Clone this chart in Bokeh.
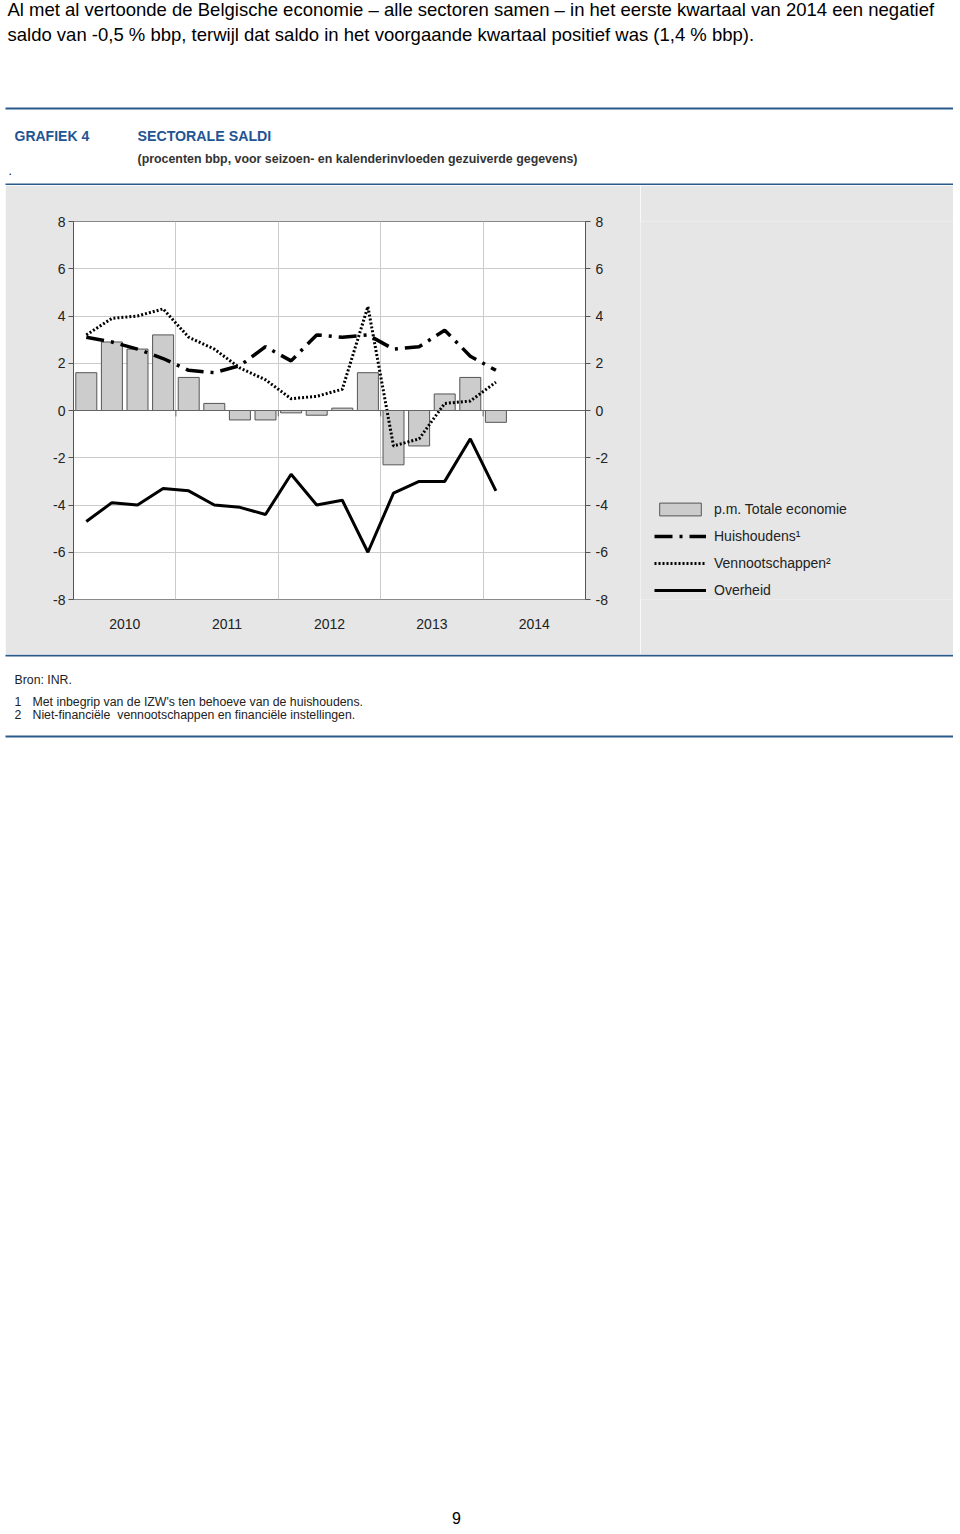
from bokeh.plotting import figure
from bokeh.layouts import column, row
from bokeh.models import (Range1d, FixedTicker, LinearAxis, Label, BoxAnnotation,
                          Span, Legend, LegendItem, Spacer)
from bokeh.embed import file_html
from bokeh.resources import INLINE

# ---------------- data ----------------
quarters = ["2010K1", "2010K2", "2010K3", "2010K4",
            "2011K1", "2011K2", "2011K3", "2011K4",
            "2012K1", "2012K2", "2012K3", "2012K4",
            "2013K1", "2013K2", "2013K3", "2013K4",
            "2014K1"]
years = [2010, 2011, 2012, 2013, 2014]
year_labels = ["2010", "2011", "2012", "2013", "2014"]
y_ticks = [-8, -6, -4, -2, 0, 2, 4, 6, 8]

totale = [1.6, 2.9, 2.6, 3.2, 1.4, 0.3, -0.4, -0.4, -0.1, -0.2, 0.1, 1.6,
          -2.3, -1.5, 0.7, 1.4, -0.5]
huishoudens = [3.1, 2.9, 2.6, 2.2, 1.7, 1.6, 1.9, 2.7, 2.1, 3.2, 3.1, 3.2,
               2.6, 2.7, 3.4, 2.3, 1.7]
vennootschappen = [3.2, 3.9, 4.0, 4.3, 3.1, 2.6, 1.8, 1.3, 0.5, 0.6, 0.9, 4.4,
                   -1.5, -1.2, 0.3, 0.4, 1.2]
overheid = [-4.7, -3.9, -4.0, -3.3, -3.4, -4.0, -4.1, -4.4, -2.7, -4.0, -3.8, -6.0,
            -3.5, -3.0, -3.0, -1.2, -3.4]

series_labels = ["p.m. Totale economie", "Huishoudens\u00b9", "Vennootschappen\u00b2", "Overheid"]

x = [int(q[:4]) + (int(q[5]) - 0.5) / 4 for q in quarters]

FONT = "Liberation Sans"
BLUE = "#1f5593"
RULE = "#2a5a8c"
GRAY_BG = "#e6e6e6"
PAGE_W = 953

# ---------------- styles ----------------
BAR_STYLE = dict(fill_color="#cccccc", line_color="#555555", line_width=1)
H_STYLE = dict(line_color="black", line_width=3.5, line_dash="18 7 3 7")
V_STYLE = dict(line_color="black", line_width=3, line_dash="2 2")
O_STYLE = dict(line_color="black", line_width=3)


def canvas_fig(height, y_top):
    f = figure(width=PAGE_W, height=height, x_range=Range1d(0, PAGE_W),
               y_range=Range1d(y_top + height, y_top), x_axis_type=None, y_axis_type=None,
               min_border_left=0, min_border_right=0, min_border_top=0, min_border_bottom=0,
               output_backend="svg", toolbar_location=None)
    f.outline_line_color = None
    f.background_fill_color = "white"
    f.border_fill_color = "white"
    return f


def add_text(f, txt, xp, yp, size, color="black", style="normal", align="left"):
    f.add_layout(Label(x=xp, y=yp, text=txt, text_font=FONT, text_font_size=size,
                       text_color=color, text_font_style=style, text_baseline="middle",
                       text_align=align))


def add_rule(f, yp):
    f.add_layout(BoxAnnotation(left=5, right=953, top=yp, bottom=yp + 2, fill_color=RULE,
                               fill_alpha=1, line_color=None))


# ---------------- header ----------------
header = canvas_fig(185, 0)
add_text(header, "Al met al vertoonde de Belgische economie \u2013 alle sectoren samen \u2013 in het eerste kwartaal van 2014 een negatief",
         7, 9, "18.5px")
add_text(header, "saldo van -0,5 % bbp, terwijl dat saldo in het voorgaande kwartaal positief was (1,4 % bbp).",
         7, 34, "18.5px")
add_text(header, "GRAFIEK 4", 14, 135, "14px", BLUE, "bold")
add_text(header, "SECTORALE SALDI", 137, 135, "14.2px", BLUE, "bold")
add_text(header, "(procenten bbp, voor seizoen- en kalenderinvloeden gezuiverde gegevens)",
         137, 158, "12.4px", "#333333", "bold")
add_text(header, ".", 8, 170, "12px")
add_rule(header, 107)
add_rule(header, 183)

# ---------------- chart ----------------
p = figure(frame_width=512, frame_height=378,
           x_range=Range1d(years[0], years[-1] + 1), y_range=Range1d(y_ticks[0], y_ticks[-1]),
           min_border_left=68, min_border_right=55, min_border_top=36, min_border_bottom=55,
           output_backend="svg", toolbar_location=None)
p.background_fill_color = "white"
p.border_fill_color = GRAY_BG
p.outline_line_color = "#888888"

p.ygrid.ticker = FixedTicker(ticks=y_ticks)
p.ygrid.grid_line_color = "#cccccc"
p.xgrid.ticker = FixedTicker(ticks=years[1:])
p.xgrid.grid_line_color = "#cccccc"

p.xaxis.ticker = FixedTicker(ticks=[yr + 0.5 for yr in years])
p.xaxis.major_label_overrides = {yr + 0.5: lab for yr, lab in zip(years, year_labels)}
p.xaxis.axis_line_color = None
p.xaxis.major_tick_out = 0
p.xaxis.major_tick_in = 0
p.xaxis.minor_tick_line_color = None
p.xaxis.major_label_standoff = 19
p.xaxis.major_label_text_font = FONT
p.xaxis.major_label_text_font_size = "14px"
p.xaxis.major_label_text_color = "#222222"

right_axis = LinearAxis()
p.add_layout(right_axis, "right")
for ax in [p.yaxis[0], right_axis]:
    ax.ticker = FixedTicker(ticks=y_ticks)
    ax.major_label_overrides = {t: str(t) for t in y_ticks}
    ax.axis_line_color = "#555555"
    ax.major_tick_line_color = "#555555"
    ax.major_tick_out = 5
    ax.major_tick_in = 0
    ax.minor_tick_line_color = None
    ax.major_label_text_font = FONT
    ax.major_label_text_font_size = "14px"
    ax.major_label_text_color = "#222222"
p.yaxis[0].major_label_standoff = 3
right_axis.major_label_standoff = 5

p.add_layout(Span(location=0, dimension="width", line_color="#666666", line_width=1))
p.segment(x0=years[1:], y0=[0] * 4, x1=years[1:], y1=[-0.25] * 4,
          line_color="#666666", line_width=1)

p.vbar(x=x, top=totale, bottom=0, width=0.205, **BAR_STYLE)
p.line(x, huishoudens, **H_STYLE)
p.line(x, vennootschappen, **V_STYLE)
p.line(x, overheid, **O_STYLE)

# ---------------- legend panel ----------------
# the same series, plotted outside this panel's visible range: only the legend shows
lf = figure(width=313, height=469, x_range=Range1d(0, 1), y_range=Range1d(0, 1),
            x_axis_type=None, y_axis_type=None,
            min_border_left=0, min_border_right=0, min_border_top=0, min_border_bottom=0,
            output_backend="svg", toolbar_location=None)
lf.outline_line_color = None
lf.background_fill_color = GRAY_BG
lf.border_fill_color = GRAY_BG
r_b = lf.vbar(x=x, top=totale, width=0.205, **BAR_STYLE)
r_h = lf.line(x, huishoudens, **H_STYLE)
r_v = lf.line(x, vennootschappen, **V_STYLE)
r_o = lf.line(x, overheid, **O_STYLE)
legend = Legend(items=[LegendItem(label=lab, renderers=[r])
                       for lab, r in zip(series_labels, [r_b, r_h, r_v, r_o])],
                location=(14, 1))
legend.margin = 0
legend.padding = 0
legend.spacing = 11
legend.glyph_width = 52
legend.glyph_height = 16
legend.label_height = 16
legend.label_standoff = 8
legend.label_text_font = FONT
legend.label_text_font_size = "14px"
legend.label_text_color = "#222222"
legend.background_fill_alpha = 0
legend.border_line_color = None
lf.add_layout(legend)

# ---------------- footer ----------------
footer = canvas_fig(872, 654)
add_rule(footer, 654)
add_rule(footer, 735)
add_text(footer, "Bron: INR.", 14, 679, "12.3px", "#222222")
add_text(footer, "1", 14, 701, "12.3px", "#222222")
add_text(footer, "Met inbegrip van de IZW's ten behoeve van de huishoudens.", 32, 701, "12.3px", "#222222")
add_text(footer, "2", 14, 714, "12.3px", "#222222")
add_text(footer, "Niet-financi\u00eble\u00a0 vennootschappen en financi\u00eble instellingen.", 32, 714, "12.3px", "#222222")
add_text(footer, "9", 456, 1517, "16px", "black", "normal", "center")

layout = column(header, row(Spacer(width=5, height=469), p, lf), footer)

open("out.html", "w").write(file_html(layout, INLINE))
